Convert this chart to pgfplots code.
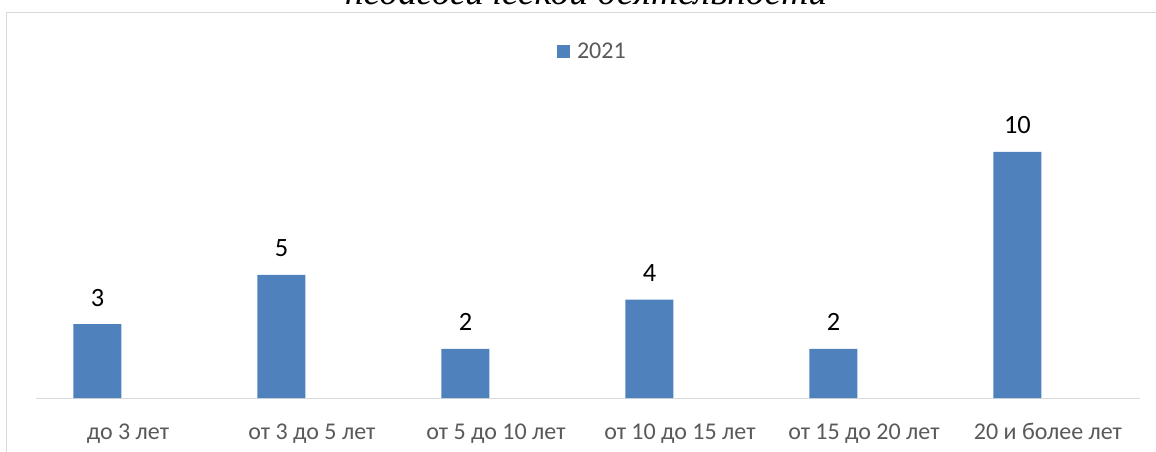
\documentclass[border=0pt]{standalone}
\usepackage{pgfplots}
\pgfplotsset{compat=1.18}
\usepackage{fontspec}
\setmainfont{Carlito}
\newfontfamily\titlefont{Liberation Serif}
\definecolor{barblue}{HTML}{4F81BD}
\definecolor{labelgray}{HTML}{595959}
\definecolor{framegray}{HTML}{D9D9D9}
\begin{document}
\begin{tikzpicture}
\begin{axis}[
    scale only axis,
    width=1104bp, height=344.4bp,
    xmin=-0.5, xmax=5.5,
    ymin=0, ymax=14,
    axis x line*=bottom,
    axis y line=none,
    x axis line style={framegray, line width=1bp},
    xtick={0,1,2,3,4,5},
    xticklabels={до 3 лет, от 3 до 5 лет, от 5 до 10 лет, от 10 до 15 лет, от 15 до 20 лет, 20 и более лет},
    major tick length=0pt,
    xticklabel style={font=\fontsize{24bp}{28bp}\selectfont, text=labelgray, anchor=base, yshift=-41bp},
    /pgf/number format/assume math mode=true,
    ybar,
    bar width=48bp,
    bar shift=-30.5bp,
    nodes near coords,
    nodes near coords style={font=\fontsize{26.4bp}{30bp}\selectfont, text=black, anchor=base, yshift=18bp},
    legend style={at={(0.504,1.0075)}, anchor=center, draw=none, fill=none,
        font=\fontsize{24bp}{28bp}\selectfont, text=labelgray, inner sep=0pt},
    clip=false,
]
\addplot[fill=barblue, draw=none,
    legend image code/.code={\fill[barblue] (0bp,-6.5bp) rectangle (13bp,6.5bp); \path (18bp,0bp);}]
    coordinates {(0,3) (1,5) (2,2) (3,4) (4,2) (5,10)};
\addlegendentry{2021}
\end{axis}
% title of the source document, cut by the top edge as in the original
\node[anchor=base, font=\titlefont\itshape\fontsize{37.5bp}{42bp}\selectfont] at (550bp,393bp) {педагогической деятельности};
\draw[framegray, line width=1bp] (-29.5bp,-60bp) -- (-29.5bp,385.5bp) -- (1125bp,385.5bp);
\pgfresetboundingbox
\useasboundingbox (-36bp,-54bp) rectangle (1120bp,398bp);
\end{tikzpicture}
\end{document}
